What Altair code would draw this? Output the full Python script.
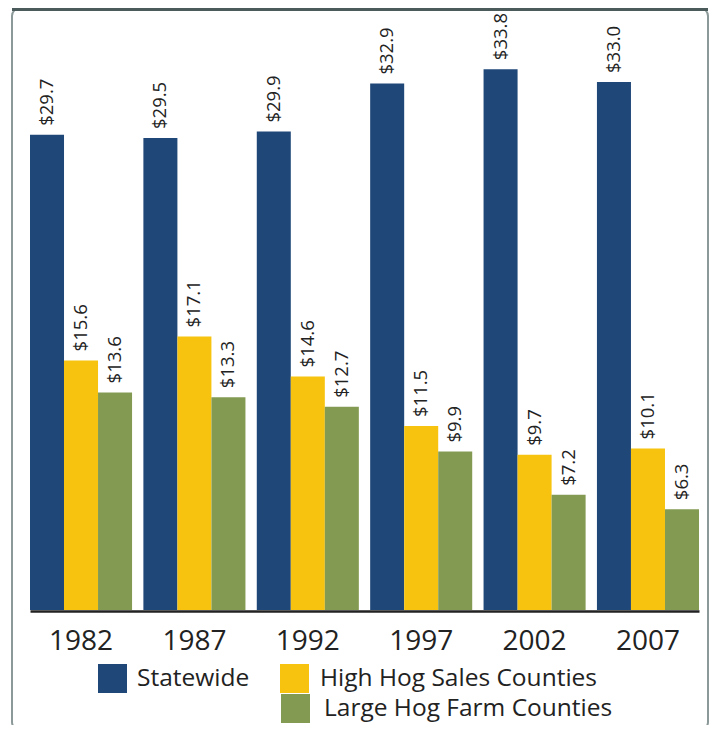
import altair as alt
import pandas as pd

years = ["1982", "1987", "1992", "1997", "2002", "2007"]
series = ["Statewide", "High Hog Sales Counties", "Large Hog Farm Counties"]
statewide = [29.7, 29.5, 29.9, 32.9, 33.8, 33.0]
high_hog_sales = [15.6, 17.1, 14.6, 11.5, 9.7, 10.1]
large_hog_farm = [13.6, 13.3, 12.7, 9.9, 7.2, 6.3]
colors = ["#1f4778", "#f8c30e", "#839a52"]

values = [statewide, high_hog_sales, large_hog_farm]
rows = []
for s, vals in zip(series, values):
    for y, v in zip(years, vals):
        rows.append({"year": y, "series": s, "value": v, "label": f"${v:.1f}"})
df = pd.DataFrame(rows)

FONT = "Open Sans"

x_enc = alt.X("year:N", sort=years,
              scale=alt.Scale(paddingInner=0.1, paddingOuter=0),
              axis=alt.Axis(title=None, labelAngle=0, labelFontSize=28, labelFont=FONT,
                            labelColor="#222222", domain=True, domainColor="#222222",
                            domainWidth=2.5, offset=1, ticks=False, tickSize=0,
                            labelPadding=16))
xo_enc = alt.XOffset("series:N", scale=alt.Scale(domain=series))
y_enc = alt.Y("value:Q", scale=alt.Scale(domain=[0, 37.625], nice=False), axis=None)

legend_pos = [(68, 656, 10), (250, 656, 11), (251, 686, 14)]

layers = []
for s, c, (lx, ly, lo) in zip(series, colors, legend_pos):
    layers.append(
        alt.Chart(df).transform_filter(alt.datum.series == s).mark_bar().encode(
            x=x_enc, xOffset=xo_enc, y=y_enc,
            color=alt.Color("series:N",
                            scale=alt.Scale(domain=[s], range=[c]),
                            legend=alt.Legend(orient="none", legendX=lx, legendY=ly, title=None,
                                              symbolType="square", symbolSize=841,
                                              symbolStrokeWidth=0, labelFontSize=24.5,
                                              labelFont=FONT, labelColor="#222222",
                                              labelOffset=lo, labelLimit=0, padding=0))
        )
    )

labels = alt.Chart(df).mark_text(angle=270, align="left", baseline="middle", dx=9,
                                 fontSize=18.5, font=FONT, color="#222222").encode(
    x=x_enc, xOffset=xo_enc, y=y_enc, text="label:N")

one = pd.DataFrame({"k": [0]})
frame = alt.Chart(one).mark_rect(fill=None, stroke="#8c9999", strokeWidth=2, cornerRadius=8).encode(
    x=alt.value(-18), x2=alt.value(678), y=alt.value(0), y2=alt.value(722))
topbar = alt.Chart(one).mark_rule(color="#4b5a5a", strokeWidth=4).encode(
    x=alt.value(-18), x2=alt.value(678), y=alt.value(1))

chart = alt.layer(frame, topbar, *layers, labels).resolve_scale(
    color="independent"
).properties(
    width=669, height=602,
    autosize=alt.AutoSizeParams(type="none"),
    padding={"left": 22, "top": 0, "right": 10, "bottom": 115},
    background="white",
).configure_view(stroke=None)

chart.save("out.html", embed_options={"renderer": "svg", "actions": False})
